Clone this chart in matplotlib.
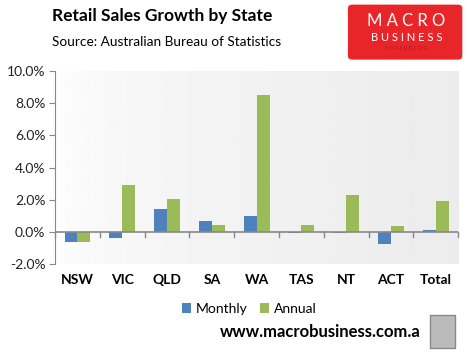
import numpy as np
import matplotlib
matplotlib.use("Agg")
import matplotlib.pyplot as plt
from matplotlib.patches import Rectangle, FancyBboxPatch

plt.rcParams['font.family'] = ['Lato', 'DejaVu Sans']

states = ['NSW', 'VIC', 'QLD', 'SA', 'WA', 'TAS', 'NT', 'ACT', 'Total']
monthly = [-0.6, -0.4, 1.45, 0.7, 1.0, -0.05, -0.05, -0.78, 0.15]
annual = [-0.65, 2.9, 2.05, 0.4, 8.5, 0.4, 2.3, 0.35, 1.95]
yticks = [-2, 0, 2, 4, 6, 8, 10]

fig = plt.figure(figsize=(4.67, 3.55), dpi=100)
ax = fig.add_axes([0.118, 0.256, 0.863, 0.544])

# gradient plot area background
grad = np.linspace(0, 1, 256) ** 0.5
grad = 1.0 - 0.075 * grad
ax.imshow(np.tile(grad, (2, 1)), cmap='gray', vmin=0, vmax=1, aspect='auto',
          extent=(0, 1, 0, 1), transform=ax.transAxes, zorder=0)

x = np.arange(len(states))
w = 0.29
ax.bar(x - w / 2, monthly, w, color='#4F81BD', label='Monthly', zorder=2)
ax.bar(x + w / 2, annual, w, color='#9BBB59', label='Annual', zorder=2)

ax.set_xlim(-0.5, len(states) - 0.5)
ax.set_ylim(-2, 10)
ax.set_yticks(yticks)
ax.set_yticklabels(['%.1f%%' % v for v in yticks], fontsize=10, color='#222222')

for s in ['top', 'right', 'bottom']:
    ax.spines[s].set_visible(False)
ax.spines['left'].set_color('#888888')
ax.tick_params(axis='y', direction='out', length=4, color='#888888', pad=3)
ax.tick_params(axis='x', length=0, pad=7)

# zero line with boundary ticks
ax.axhline(0, color='#888888', lw=1.2, zorder=3)
for b in np.arange(-0.5, len(states), 1.0):
    ax.plot([b, b], [0, -0.3], color='#888888', lw=1, zorder=3, clip_on=False)

ax.set_xticks(x)
ax.set_xticklabels(states, fontsize=10, fontweight='bold')

fig.text(0.112, 0.955, 'Retail Sales Growth by State', fontsize=12.5,
         fontweight='bold', va='center')
fig.text(0.112, 0.882, 'Source: Australian Bureau of Statistics', fontsize=9.8,
         va='center')

# logo
fig.patches.append(FancyBboxPatch((0.745, 0.832), 0.245, 0.155,
                                  boxstyle='round,pad=0,rounding_size=0.01',
                                  transform=fig.transFigure, facecolor='#E8262A',
                                  edgecolor='none'))
fig.text(0.87, 0.94, 'M A C R O', fontsize=12, color='white', ha='center', va='center')
fig.text(0.87, 0.895, 'B U S I N E S S', fontsize=8, color='white', ha='center',
         va='center')
fig.text(0.87, 0.862, 'S U P E R B L O G', fontsize=4, color='#b01a1e', ha='center',
         va='center')

leg = fig.legend(loc='center', bbox_to_anchor=(0.533, 0.13), ncol=2, frameon=False,
                 fontsize=10, handlelength=0.7, handleheight=0.7, handletextpad=0.3,
                 columnspacing=0.9)

fig.text(0.47, 0.065, 'www.macrobusiness.com.a', fontsize=12, fontweight='bold',
         va='center')
fig.patches.append(Rectangle((0.92, 0.02), 0.055, 0.092, transform=fig.transFigure,
                             facecolor='#bbbbbb', edgecolor='#888888', lw=1))

fig.savefig('out.png', dpi=100)
